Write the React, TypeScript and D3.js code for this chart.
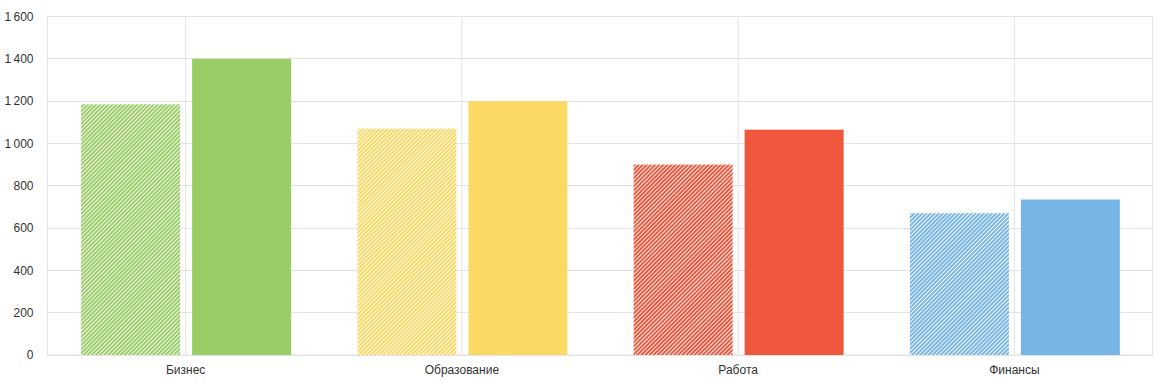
import { useEffect, useRef } from 'react';
import * as d3 from 'd3';

// Chart data
const categories = ['Бизнес', 'Образование', 'Работа', 'Финансы'];
const previousValues = [1185, 1070, 900, 670];
const currentValues = [1400, 1200, 1065, 735];
const colors = ['#9ACD66', '#FBD965', '#EE573B', '#78B5E7'];
const yTicks = [0, 200, 400, 600, 800, 1000, 1200, 1400, 1600];

const WIDTH = 1166;
const HEIGHT = 386;

export default function App() {
  const svgRef = useRef<SVGSVGElement>(null);

  useEffect(() => {
    if (!svgRef.current) return;
    const svg = d3.select(svgRef.current);
    svg.selectAll('*').remove();

    const margin = { top: 16.5, right: 13.5, bottom: 31, left: 47.5 };
    const w = WIDTH - margin.left - margin.right;
    const h = HEIGHT - margin.top - margin.bottom;

    const x = d3.scaleBand<string>().domain(categories).range([0, w]);
    const y = d3.scaleLinear().domain([0, 1600]).range([h, 0]);

    // Hatch patterns for the "previous" series
    const defs = svg.append('defs');
    colors.forEach((c, i) => {
      const p = defs.append('pattern')
        .attr('id', `hatch-${i}`)
        .attr('patternUnits', 'userSpaceOnUse')
        .attr('width', 2.9)
        .attr('height', 3)
        .attr('patternTransform', 'rotate(45)');
      p.append('rect').attr('width', 2.9).attr('height', 3).attr('fill', '#fff');
      p.append('rect').attr('width', 2).attr('height', 3).attr('fill', c);
    });

    const g = svg.append('g').attr('transform', `translate(${margin.left},${margin.top})`);

    // Horizontal grid
    g.selectAll('line.hgrid')
      .data(yTicks)
      .join('line')
      .attr('class', 'hgrid')
      .attr('x1', 0)
      .attr('x2', w)
      .attr('y1', (d) => Math.round(y(d)))
      .attr('y2', (d) => Math.round(y(d)))
      .attr('stroke', '#e3e3e3')
      .attr('stroke-width', 1);

    // Vertical grid at category centers
    g.selectAll('line.vgrid')
      .data(categories)
      .join('line')
      .attr('class', 'vgrid')
      .attr('x1', (d) => x(d)! + x.bandwidth() / 2)
      .attr('x2', (d) => x(d)! + x.bandwidth() / 2)
      .attr('y1', 0)
      .attr('y2', h)
      .attr('stroke', '#e3e3e3');

    // Plot frame
    g.append('rect')
      .attr('x', 0)
      .attr('y', 0)
      .attr('width', w)
      .attr('height', h)
      .attr('fill', 'none')
      .attr('stroke', '#e3e3e3');

    const barW = 99;
    const gap = 6;

    // Hatched (previous) bars
    g.selectAll('rect.prev')
      .data(previousValues)
      .join('rect')
      .attr('class', 'prev')
      .attr('x', (_, i) => x(categories[i])! + x.bandwidth() / 2 - gap + 0.5 - barW)
      .attr('y', (d) => y(d))
      .attr('width', barW)
      .attr('height', (d) => h - y(d))
      .attr('fill', (_, i) => `url(#hatch-${i})`);

    // Solid (current) bars
    g.selectAll('rect.cur')
      .data(currentValues)
      .join('rect')
      .attr('class', 'cur')
      .attr('x', (_, i) => x(categories[i])! + x.bandwidth() / 2 + gap + 0.5)
      .attr('y', (d) => y(d))
      .attr('width', barW)
      .attr('height', (d) => h - y(d))
      .attr('fill', (_, i) => colors[i]);

    // Y labels
    const fmt = (v: number) => (v >= 1000 ? `${Math.floor(v / 1000)}\u2009${String(v % 1000).padStart(3, '0')}` : String(v));
    g.selectAll('text.ylab')
      .data(yTicks)
      .join('text')
      .attr('class', 'ylab')
      .attr('x', -14)
      .attr('y', (d) => y(d))
      .attr('dy', '0.35em')
      .attr('text-anchor', 'end')
      .attr('font-size', '12px')
      .attr('font-family', 'Liberation Sans, Arial, sans-serif')
      .attr('fill', '#333')
      .text(fmt);

    // X labels
    g.selectAll('text.xlab')
      .data(categories)
      .join('text')
      .attr('class', 'xlab')
      .attr('x', (d) => x(d)! + x.bandwidth() / 2)
      .attr('y', h + 19)
      .attr('text-anchor', 'middle')
      .attr('font-size', '12px')
      .attr('font-family', 'Liberation Sans, Arial, sans-serif')
      .attr('fill', '#333')
      .text((d) => d);
  }, []);

  return (
    <svg
      ref={svgRef}
      width={WIDTH}
      height={HEIGHT}
      style={{ display: 'block', position: 'absolute', left: 0, top: 0, background: '#fff' }}
    />
  );
}
